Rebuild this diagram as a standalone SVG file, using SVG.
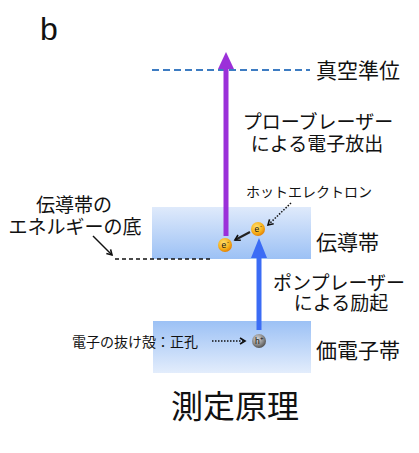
<svg xmlns="http://www.w3.org/2000/svg" width="419" height="453" viewBox="0 0 419 453">
<style>
text{font-family:"Noto Sans CJK JP","Noto Sans",sans-serif;fill:#111}
.m{font-size:19px}
.b{font-size:21px}
.s{font-size:14px}
.l{font-family:"Liberation Sans",sans-serif}
</style>
<defs>
<linearGradient id="cb" x1="0" y1="0" x2="0" y2="1"><stop offset="0" stop-color="#dfeafb"/><stop offset="1" stop-color="#9cc1f5"/></linearGradient>
<linearGradient id="vb" x1="0" y1="0" x2="0" y2="1"><stop offset="0" stop-color="#9cc1f5"/><stop offset="1" stop-color="#e3edfc"/></linearGradient>
<radialGradient id="eg" cx="0.4" cy="0.35" r="0.7"><stop offset="0" stop-color="#ffe070"/><stop offset="0.6" stop-color="#f7b21c"/><stop offset="1" stop-color="#e07a00"/></radialGradient>
<radialGradient id="hg" cx="0.4" cy="0.35" r="0.7"><stop offset="0" stop-color="#d8d8d8"/><stop offset="0.6" stop-color="#8a8a8a"/><stop offset="1" stop-color="#4a4a4a"/></radialGradient>
<marker id="ah" markerWidth="8" markerHeight="8" refX="6" refY="4" orient="auto" markerUnits="userSpaceOnUse"><path d="M1,1 L6,4 L1,7" fill="none" stroke="#111" stroke-width="1.6"/></marker>
</defs>
<text x="40" y="40" class="l" style="font-size:32px">b</text>
<g id="bands">
<rect x="152" y="207" width="159" height="52" fill="url(#cb)"/>
<rect x="153" y="321" width="158" height="52" fill="url(#vb)"/>
</g>
<g id="connectors">
<line x1="152" y1="70" x2="310" y2="70" stroke="#3d7cc2" stroke-width="2" stroke-dasharray="7,4"/>
<line x1="115" y1="259" x2="213" y2="259" stroke="#111" stroke-width="1.6" stroke-dasharray="4,3"/>
<line x1="226" y1="236" x2="226" y2="66" stroke="#9b30d9" stroke-width="5"/>
<path d="M226,52 L234,69 L218,69 Z" fill="#9b30d9"/>
<line x1="259" y1="330" x2="259" y2="255" stroke="#3b6cf5" stroke-width="5"/>
<path d="M259,238 L267,258 L251,258 Z" fill="#3b6cf5"/>
<line x1="93" y1="236" x2="112" y2="255" stroke="#111" stroke-width="1.5" marker-end="url(#ah)"/>
<line x1="291" y1="203" x2="268" y2="225" stroke="#111" stroke-width="1.5" stroke-dasharray="1.5,1.5" marker-end="url(#ah)"/>
<line x1="250" y1="232" x2="235" y2="240" stroke="#222" stroke-width="2" marker-end="url(#ah)"/>
<line x1="212" y1="341" x2="245" y2="341" stroke="#111" stroke-width="1.5" stroke-dasharray="1.5,1.5" marker-end="url(#ah)"/>
</g>
<g id="e1"><circle cx="225" cy="245" r="7" fill="url(#eg)"/><text x="221.5" y="248" class="l" style="font-size:8.5px">e</text><text x="227" y="244" class="l" style="font-size:6px">-</text></g>
<g id="e2"><circle cx="258" cy="229" r="7" fill="url(#eg)"/><text x="254.5" y="232" class="l" style="font-size:8.5px">e</text><text x="260" y="228" class="l" style="font-size:6px">-</text></g>
<g id="h"><circle cx="259" cy="341" r="7" fill="url(#hg)"/><text x="255" y="344" class="l" style="font-size:8.5px">h</text><text x="260" y="340" class="l" style="font-size:6px">+</text></g>
<g id="labels">
<text class="b" x="316" y="78">真空準位</text>
<text class="m" x="318" y="129" text-anchor="middle">プローブレーザー</text>
<text class="m" x="317" y="151" text-anchor="middle">による電子放出</text>
<text class="s" x="309" y="197" text-anchor="middle">ホットエレクトロン</text>
<text class="b" x="316" y="250">伝導帯</text>
<text class="m" x="74" y="212" text-anchor="middle">伝導帯の</text>
<text class="m" x="75" y="234" text-anchor="middle">エネルギーの底</text>
<text class="m" x="339" y="290" text-anchor="middle">ポンプレーザー</text>
<text class="m" x="341" y="310" text-anchor="middle">による励起</text>
<text class="s" x="72" y="347">電子の抜け殻：正孔</text>
<text class="b" x="316" y="358">価電子帯</text>
<text x="235" y="418" text-anchor="middle" style="font-size:32px">測定原理</text>
</g>
</svg>
